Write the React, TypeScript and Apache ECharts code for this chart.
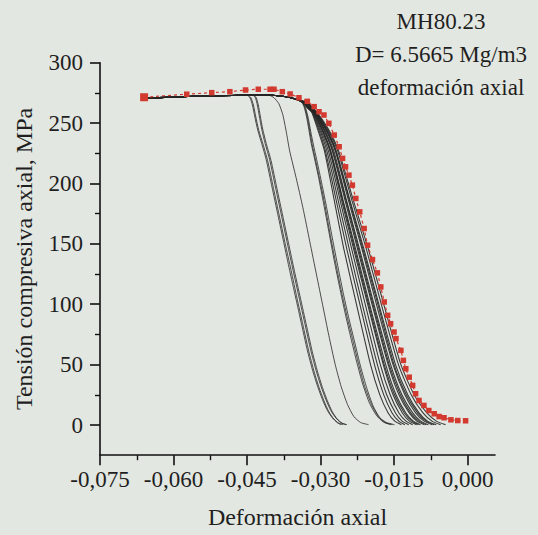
import React, { useEffect, useRef } from "react";
import * as echarts from "echarts";

// ---- Data ----
const xMajorTicks = [-0.075, -0.06, -0.045, -0.03, -0.015, 0];
const xMinorTicks = [-0.0675, -0.0525, -0.0375, -0.0225, -0.0075];
const yMajorTicks = [0, 50, 100, 150, 200, 250, 300];
const yMinorTicks = [25, 75, 125, 175, 225, 275];

const titleLines = ["MH80.23", "D= 6.5665 Mg/m3", "deformación axial"];

// shared initial plateau of the black curves
const plateau: number[][] = [
  [-0.066, 270.5], [-0.06, 271.6], [-0.054, 272.4], [-0.048, 272.9],
  [-0.044, 273.1], [-0.04, 273.0], [-0.037, 271.8], [-0.035, 269.8],
];

// group A (4 curves, leftmost)
const curveA1 = [[-0.045,273],[-0.0444,271],[-0.0439,265],[-0.0434,255],[-0.0428,244],[-0.042,233],[-0.0411,220],[-0.0399,197],[-0.0387,174],[-0.0375,151],[-0.0363,128],[-0.0351,106],[-0.0339,84],[-0.0327,62],[-0.0316,45],[-0.0306,32],[-0.0296,21],[-0.0286,12],[-0.0276,6],[-0.0266,2],[-0.0258,0.3]];
const curveA2 = [[-0.0448,273],[-0.0442,271],[-0.0437,265],[-0.0432,255],[-0.0426,244],[-0.0417,232],[-0.0408,219],[-0.0396,196],[-0.0384,173],[-0.0372,150],[-0.036,128],[-0.0348,105],[-0.0336,83],[-0.0324,61],[-0.0313,44],[-0.0303,31],[-0.0293,20],[-0.0283,11],[-0.0273,5],[-0.0263,1.5],[-0.0254,0.3]];
const curveA3 = [[-0.0438,273],[-0.0433,271],[-0.0429,265],[-0.0425,256],[-0.042,245],[-0.0413,233],[-0.0404,220],[-0.0392,197],[-0.038,174],[-0.0368,151],[-0.0356,128],[-0.0344,106],[-0.0332,84],[-0.032,62],[-0.0309,45],[-0.0299,32],[-0.0289,21],[-0.0279,12],[-0.0269,6],[-0.0259,2],[-0.0249,0.3]];
const curveA4 = [[-0.0436,273],[-0.0431,271],[-0.0427,265],[-0.0423,256],[-0.0418,245],[-0.041,232],[-0.0401,219],[-0.0389,196],[-0.0377,173],[-0.0365,150],[-0.0353,127],[-0.0341,105],[-0.0329,83],[-0.0317,61],[-0.0306,44],[-0.0296,31],[-0.0286,20],[-0.0276,11],[-0.0266,5],[-0.0256,1.5],[-0.0246,0.3]];

// group B (single curve)
const curveB = [[-0.0405,273],[-0.0395,271],[-0.0385,266],[-0.0377,257],[-0.037,243],[-0.0363,227],[-0.035,205],[-0.0336,180],[-0.0322,152],[-0.0308,124],[-0.0296,100],[-0.0283,74],[-0.027,50],[-0.0258,32],[-0.0245,17],[-0.0232,7],[-0.0218,2],[-0.0202,0.3]];

// group C (3 curves)
const curveC1 = [[-0.034,268],[-0.0334,264],[-0.0329,256],[-0.0324,245],[-0.0319,233],[-0.0313,222],[-0.0304,205],[-0.0294,184],[-0.0283,160],[-0.0272,136],[-0.0261,114],[-0.025,93],[-0.0238,72],[-0.0226,52],[-0.0214,34],[-0.02,18],[-0.0186,8],[-0.0172,2.5],[-0.0157,0.3]];
const curveC2 = [[-0.0338,267.5],[-0.0332,263],[-0.0327,255],[-0.0322,244],[-0.0317,232],[-0.0311,221],[-0.0302,204],[-0.0291,182],[-0.028,157],[-0.0268,132],[-0.0257,110],[-0.0246,90],[-0.0234,70],[-0.0222,50],[-0.021,32],[-0.0196,17],[-0.0182,7],[-0.0168,2],[-0.0153,0.3]];
const curveC3 = [[-0.0336,267],[-0.033,262],[-0.0325,254],[-0.032,243],[-0.0314,231],[-0.0308,220],[-0.0299,203],[-0.0288,181],[-0.0276,155],[-0.0264,130],[-0.0253,108],[-0.0242,88],[-0.023,68],[-0.0218,48],[-0.0206,31],[-0.0193,16],[-0.0179,6],[-0.0165,2],[-0.0149,0.3]];

// group D (dense bundle under the red curve)
const curveD1 = [[-0.0335,266.5],[-0.0327,262.5],[-0.0318,259],[-0.0306,245],[-0.0292,227],[-0.0272,186],[-0.0252,145],[-0.0225,97],[-0.0198,50],[-0.0179,25],[-0.0162,10],[-0.0148,3],[-0.0135,0.3]];
const curveD2 = [[-0.0334,266.5],[-0.0326,262.5],[-0.0317,259],[-0.0304,245],[-0.029,227],[-0.0268,186],[-0.0246,145],[-0.0218,97],[-0.019,50],[-0.0171,25],[-0.0154,10],[-0.014,3],[-0.0128,0.3]];
const curveD3 = [[-0.0333,266.5],[-0.0325,262.5],[-0.0316,259],[-0.0302,245],[-0.0287,227],[-0.0264,186],[-0.0241,145],[-0.0213,97],[-0.0184,50],[-0.0165,25],[-0.0147,10],[-0.0133,3],[-0.012,0.3]];
const curveD4 = [[-0.0332,266.5],[-0.0324,262.5],[-0.0315,259],[-0.03,245],[-0.0284,227],[-0.026,186],[-0.0236,145],[-0.0207,97],[-0.0178,50],[-0.0158,25],[-0.014,10],[-0.0125,3],[-0.0112,0.3]];
const curveD5 = [[-0.0331,266.5],[-0.0323,262.5],[-0.0314,259],[-0.0298,245],[-0.0281,227],[-0.0257,186],[-0.0232,145],[-0.0202,97],[-0.0172,50],[-0.0152,25],[-0.0133,10],[-0.0118,3],[-0.0104,0.3]];
const curveD5b = [[-0.033,266.5],[-0.0322,262.5],[-0.0313,259],[-0.0297,245],[-0.028,227],[-0.0255,186],[-0.023,145],[-0.02,97],[-0.017,50],[-0.0149,25],[-0.0129,10],[-0.0113,3],[-0.01,0.3]];
const curveD6 = [[-0.033,266.5],[-0.0322,262.5],[-0.0313,259],[-0.0296,245],[-0.0279,227],[-0.0254,186],[-0.0228,145],[-0.0198,97],[-0.0167,50],[-0.0146,25],[-0.0126,10],[-0.011,3],[-0.0096,0.3]];
const curveD7 = [[-0.0329,266.5],[-0.0321,262.5],[-0.0312,259],[-0.0294,245],[-0.0276,227],[-0.025,186],[-0.0224,145],[-0.0193,97],[-0.0162,50],[-0.014,25],[-0.0119,10],[-0.0103,3],[-0.0088,0.3]];
const curveD7b = [[-0.0328,266.5],[-0.032,262.5],[-0.0311,259],[-0.0293,245],[-0.0275,227],[-0.0248,186],[-0.0222,145],[-0.0191,97],[-0.016,50],[-0.0137,25],[-0.0116,10],[-0.0099,3],[-0.0084,0.3]];
const curveD8 = [[-0.0328,266.5],[-0.032,262.5],[-0.0311,259],[-0.0292,245],[-0.0273,227],[-0.0247,186],[-0.022,145],[-0.0189,97],[-0.0157,50],[-0.0134,25],[-0.0112,10],[-0.0095,3],[-0.008,0.3]];
const curveD9 = [[-0.0327,266.5],[-0.0319,262.5],[-0.031,259],[-0.029,245],[-0.027,227],[-0.0243,186],[-0.0215,145],[-0.0184,97],[-0.0152,50],[-0.0128,25],[-0.0106,10],[-0.0088,3],[-0.0072,0.3]];
const curveD9b = [[-0.0326,266.5],[-0.0318,262.5],[-0.0309,259],[-0.0289,245],[-0.0269,227],[-0.0241,186],[-0.0213,145],[-0.0181,97],[-0.015,50],[-0.0125,25],[-0.0102,10],[-0.0084,3],[-0.0068,0.3]];
const curveD10 = [[-0.0326,266.5],[-0.0318,262.5],[-0.0309,259],[-0.0288,245],[-0.0268,227],[-0.024,186],[-0.0211,145],[-0.0179,97],[-0.0147,50],[-0.0122,25],[-0.0099,10],[-0.0081,3],[-0.0064,0.3]];
const curveD11 = [[-0.0325,266.5],[-0.0317,262.5],[-0.0308,259],[-0.0286,245],[-0.0265,227],[-0.0236,186],[-0.0206,145],[-0.0174,97],[-0.0141,50],[-0.0115,25],[-0.0091,10],[-0.0072,3],[-0.0055,0.3]];
const curveD12 = [[-0.0324,266.5],[-0.0316,262.5],[-0.0307,259],[-0.0284,245],[-0.0263,227],[-0.0233,186],[-0.0202,145],[-0.0169,97],[-0.0136,50],[-0.0109,25],[-0.0083,10],[-0.0063,3],[-0.0045,0.3]];

// red reference curve with square markers
const redCurve = [[-0.066,271.4],[-0.0573,273.9],[-0.0522,275.2],[-0.0485,276],[-0.0453,277.4],[-0.0427,278],[-0.0403,278],[-0.0395,278],[-0.0378,276],[-0.0362,274.1],[-0.0344,271],[-0.0327,268],[-0.0313,263.6],[-0.0303,259.4],[-0.0293,256.7],[-0.0283,249.8],[-0.0272,240.1],[-0.0262,230.4],[-0.0255,220.8],[-0.0249,213.8],[-0.0242,206.9],[-0.0235,198.6],[-0.0228,187.6],[-0.022,176.5],[-0.0211,162.7],[-0.0204,148.9],[-0.0194,137],[-0.0184,126],[-0.0177,114.3],[-0.017,101.9],[-0.0163,90.8],[-0.0157,83.9],[-0.015,77],[-0.0146,71.5],[-0.0136,61.8],[-0.0131,53.5],[-0.0126,46.6],[-0.0119,39.6],[-0.0112,32.8],[-0.0106,25.9],[-0.0099,20.3],[-0.0089,16.2],[-0.0079,12],[-0.0068,9.3],[-0.0058,7],[-0.0048,6],[-0.0034,4.3],[-0.002,3.7],[-0.0004,3.5]];

const sparseCurves = [curveA1, curveA2, curveA3, curveA4, curveB, curveC1, curveC2, curveC3];
const bundleCurves = [
  curveD1, curveD2, curveD3, curveD4, curveD5, curveD5b, curveD6, curveD7, curveD7b,
  curveD8, curveD9, curveD9b, curveD10, curveD11, curveD12,
];

const FONT = "Times New Roman, Liberation Serif, Tinos, DejaVu Serif, serif";
const TEXT = "#1f1f1f";
const BG = "#e3e7e1";
const RED = "#d23a30";

function withPlateau(curve: number[][]) {
  const start = curve[0][0];
  return [...plateau.filter((p) => p[0] < start - 0.0003), ...curve];
}

export default function App() {
  const ref = useRef<HTMLDivElement>(null);
  useEffect(() => {
    document.body.style.margin = "0";
    if (!ref.current) return;
    const chart = echarts.init(ref.current, undefined, { renderer: "svg" });
    const axisLine = { show: true, onZero: false, lineStyle: { color: "#111", width: 1.6 } };
    const fmtX = (v: number) => (Math.abs(v) < 1e-9 ? 0 : v).toFixed(3).replace(".", ",");
    const lineSeries = (c: number[][], i: number, width: number) => ({
      type: "line", name: "c" + i, xAxisIndex: 0, yAxisIndex: 0,
      data: withPlateau(c), showSymbol: false, smooth: 0.2,
      lineStyle: { color: "#262626", width, opacity: 0.9 },
      silent: true, z: 2,
    });
    const option: any = {
      animation: false,
      backgroundColor: BG,
      textStyle: { fontFamily: FONT },
      grid: { left: 100, top: 62.7, width: 395, height: 392.5, containLabel: false },
      xAxis: [
        {
          type: "value", min: -0.075, max: 0.0056, position: "bottom",
          axisLine, splitLine: { show: false },
          axisTick: { show: true, inside: false, length: 10, customValues: xMajorTicks, lineStyle: { color: "#111", width: 1.6 } },
          axisLabel: { show: true, customValues: xMajorTicks, formatter: fmtX, margin: 13, fontSize: 23, fontFamily: FONT, color: TEXT },
          name: "Deformación axial", nameLocation: "middle", nameGap: 50,
          nameTextStyle: { fontSize: 24, fontFamily: FONT, color: TEXT },
        },
        {
          type: "value", min: -0.075, max: 0.0056, position: "bottom",
          axisLine: { show: false, onZero: false }, splitLine: { show: false },
          axisTick: { show: true, inside: false, length: 5, customValues: xMinorTicks, lineStyle: { color: "#111", width: 1.4 } },
          axisLabel: { show: false },
        },
      ],
      yAxis: [
        {
          type: "value", min: -25, max: 300, position: "left",
          axisLine, splitLine: { show: false },
          axisTick: { show: true, inside: false, length: 10, customValues: yMajorTicks, lineStyle: { color: "#111", width: 1.6 } },
          axisLabel: { show: true, customValues: yMajorTicks, margin: 17, fontSize: 23, fontFamily: FONT, color: TEXT },
          name: "Tensión compresiva axial, MPa", nameLocation: "middle", nameGap: 64,
          nameTextStyle: { fontSize: 24, fontFamily: FONT, color: TEXT },
        },
        {
          type: "value", min: -25, max: 300, position: "left",
          axisLine: { show: false, onZero: false }, splitLine: { show: false },
          axisTick: { show: true, inside: false, length: 5, customValues: yMinorTicks, lineStyle: { color: "#111", width: 1.4 } },
          axisLabel: { show: false },
        },
      ],
      graphic: titleLines.map((t, i) => ({
        type: "text", x: 441, y: 21 + i * 33,
        style: { text: t, fontSize: 23, fontFamily: FONT, fill: TEXT, textAlign: "center", textVerticalAlign: "middle" },
      })),
      series: [
        ...sparseCurves.map((c, i) => lineSeries(c, i, 0.9)),
        ...bundleCurves.map((c, i) => lineSeries(c, 100 + i, 1.1)),
        {
          type: "line", name: "red", xAxisIndex: 0, yAxisIndex: 0,
          data: redCurve.map((p, i) => (i === 0 ? { value: p, symbolSize: 8 } : p)),
          showSymbol: true, symbol: "rect", symbolSize: 5.5,
          itemStyle: { color: RED },
          lineStyle: { color: RED, width: 1.2, type: [3, 3] },
          silent: true, z: 3,
        },
      ],
    };
    chart.setOption(option);
    return () => chart.dispose();
  }, []);
  return <div ref={ref} style={{ width: 538, height: 535, background: BG }} />;
}
